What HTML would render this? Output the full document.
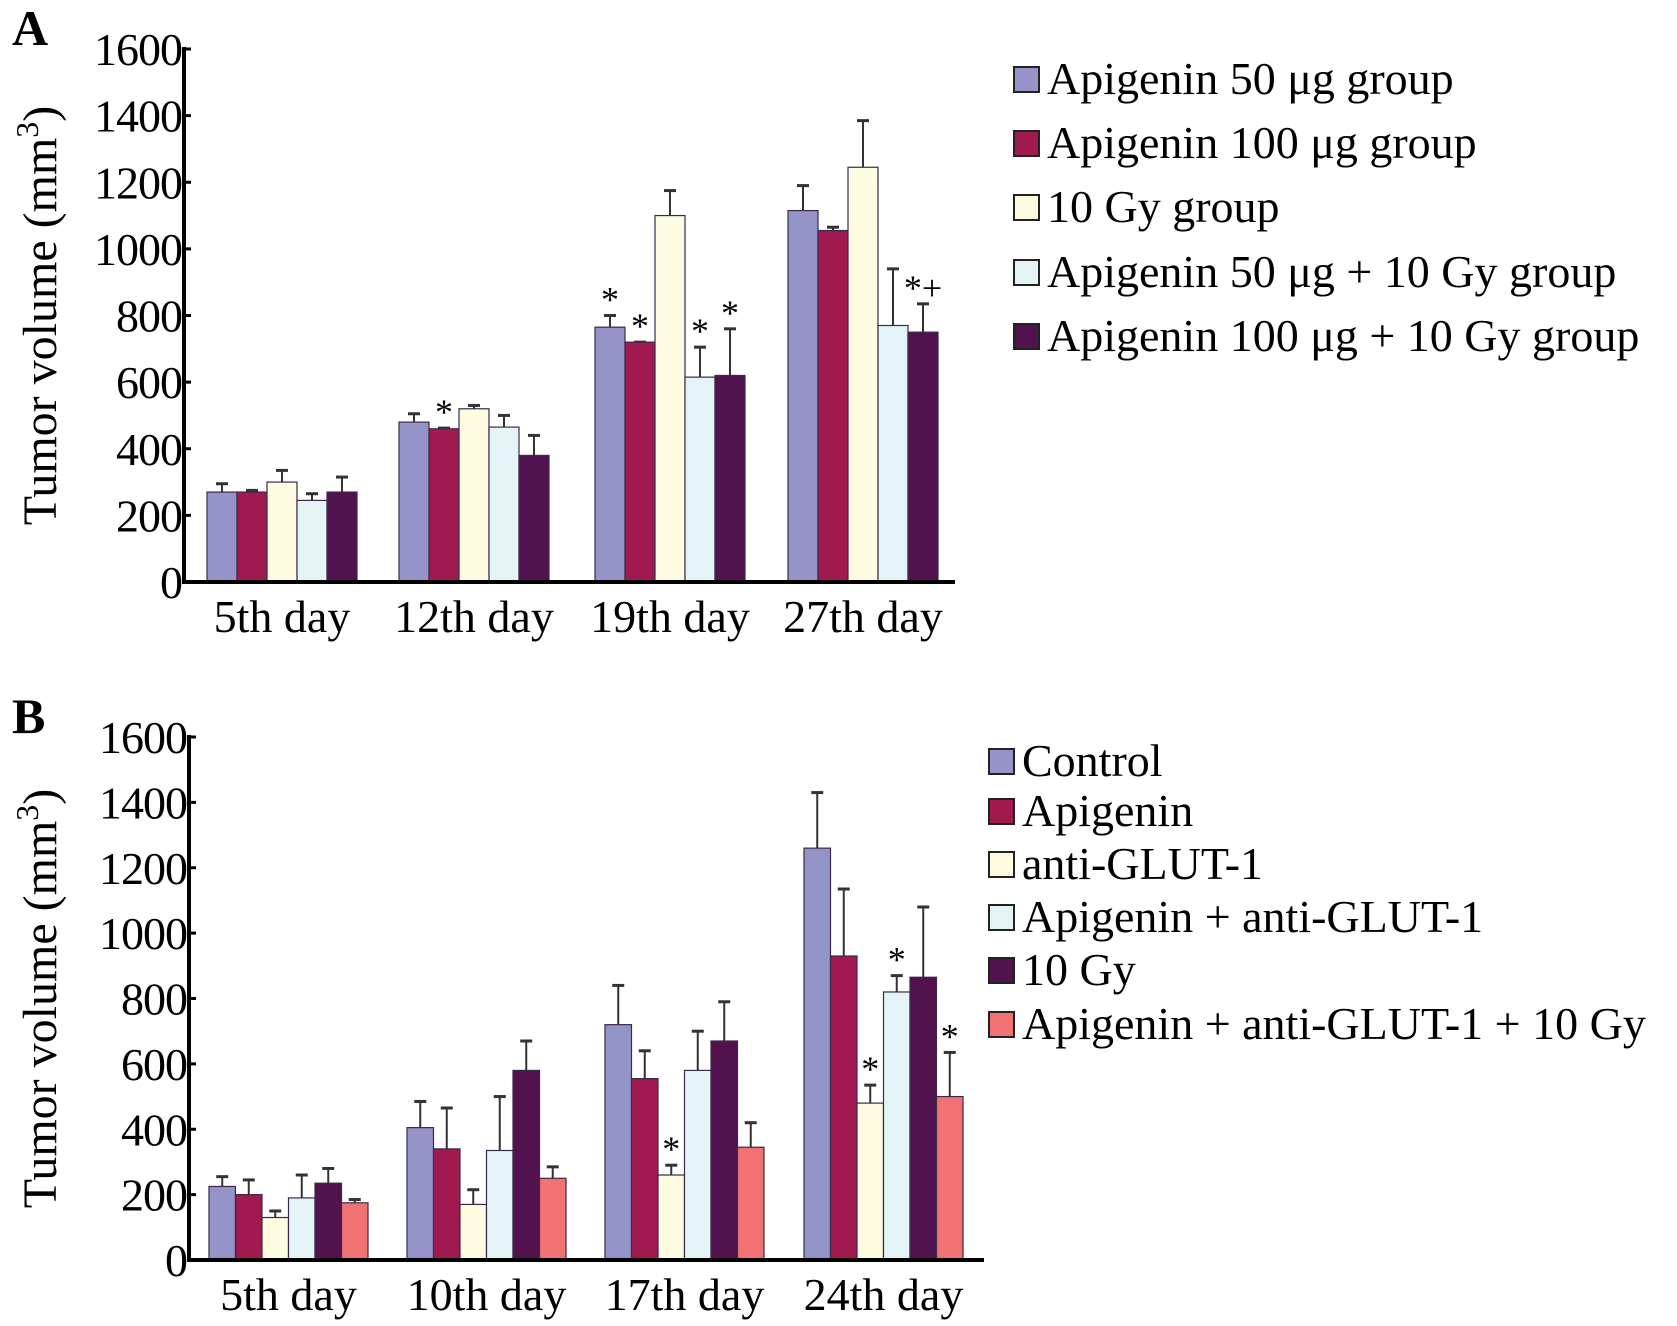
<!DOCTYPE html>
<html><head><meta charset="utf-8"><style>
body{margin:0;background:#fff;}
svg{display:block;font-family:"Liberation Serif",serif;}
</style></head><body>
<svg id="c" width="1677" height="1326" viewBox="0 0 1677 1326"></svg>
<script>
const catsA=["5th day","12th day","19th day","27th day"];
const seriesA=["Apigenin 50 μg group","Apigenin 100 μg group","10 Gy group","Apigenin 50 μg + 10 Gy group","Apigenin 100 μg + 10 Gy group"];
const valsA=[[270,270,300,245,270],[480,460,520,465,380],[765,720,1100,615,620],[1115,1055,1245,770,750]];
const errA=[[295,275,335,265,315],[505,462,530,500,440],[800,720,1175,705,760],[1190,1065,1385,940,835]];
const starsA=[["","","","",""],["","*","","",""],["*","*","","*","*"],["","","","","*+"]];
const catsB=["5th day","10th day","17th day","24th day"];
const seriesB=["Control","Apigenin","anti-GLUT-1","Apigenin + anti-GLUT-1","10 Gy","Apigenin + anti-GLUT-1 + 10 Gy"];
const valsB=[[225,200,130,190,235,175],[405,340,170,335,580,250],[720,555,260,580,670,345],[1260,930,480,820,865,500]];
const errB=[[255,245,150,260,280,185],[485,465,215,500,670,285],[840,640,290,700,790,420],[1430,1135,535,870,1080,635]];
const starsB=[["","","","","",""],["","","","","",""],["","","*","","",""],["","","*","*","","*"]];
const ticks=[0,200,400,600,800,1000,1200,1400,1600];
const colA=["#9494c8","#a01a50","#fffbe0","#e4f4f6","#52124e"];
const colB=["#9494c8","#a01a50","#fffbe0","#e4f4f6","#52124e","#f07272"];
const svg=document.getElementById('c');
const NS="http://www.w3.org/2000/svg";
function mk(t,a,p){const e=document.createElementNS(NS,t);for(const k in a)e.setAttribute(k,a[k]);(p||svg).appendChild(e);return e;}
function panel(P){
  const g=mk('g',{});
  
  
  const y=v=>P.y0-(v/1600)*(P.y0-P.y1);
  const lab=mk('text',{x:12,y:P.y1-4,'font-size':50,'font-weight':'bold'},g);lab.textContent=P.letter;
  
  P.vals.forEach((grp,i)=>{grp.forEach((v,j)=>{
    const x=P.gx[i]+j*P.bw;
    const ex=x+P.bw/2, ey=y(P.err[i][j]);
    const l=mk('line',{x1:ex,x2:ex,y1:y(v),y2:ey,stroke:'#333','stroke-width':2},g);
    
    mk('line',{x1:ex-6,x2:ex+6,y1:ey,y2:ey,stroke:'#333','stroke-width':3},g);
    const r=mk('rect',{x:x,y:y(v),width:P.bw,height:y(0)-y(v),fill:P.col[j],stroke:'#3a2a4a','stroke-width':1.2},g);
    
    
    if(P.stars[i][j]){const s=mk('text',{x:ex,y:ey-4,'font-size':36,'text-anchor':'middle'},g);s.textContent=P.stars[i][j];
      }
  });
  const c=mk('text',{x:P.gx[i]+P.bw*P.col.length/2,y:P.y0+50,'font-size':46,'text-anchor':'middle'},g);c.textContent=P.cats[i];
  
  });
  mk('line',{x1:P.ax,x2:P.ax,y1:P.y1-2,y2:P.y0+2,stroke:'#000','stroke-width':4},g);
  mk('line',{x1:P.ax-2,x2:P.xr,y1:P.y0,y2:P.y0,stroke:'#000','stroke-width':4},g);
  ticks.forEach(t=>{mk('line',{x1:P.ax,x2:P.ax+7,y1:y(t),y2:y(t),stroke:'#000','stroke-width':3},g);
    const tl=mk('text',{x:P.ax-2,y:y(t)+16,'font-size':46,'text-anchor':'end','letter-spacing':-1},g);tl.textContent=t;
    });
  const yt=mk('text',{transform:`translate(56,${(P.y0+P.y1)/2}) rotate(-90)`,'font-size':48,'text-anchor':'middle'},g);
  yt.innerHTML='Tumor volume (mm<tspan dy="-18" font-size="32">3</tspan><tspan dy="18">)</tspan>';
  
  P.series.forEach((s,j)=>{
    const ly=P.ly[j];
    const r=mk('rect',{x:P.lx,y:ly-27,width:25,height:25,fill:P.col[j],stroke:'#222','stroke-width':2},g);
    
    const t=mk('text',{x:P.lx+33,y:ly,'font-size':46},g);t.textContent=s;
    
  });
}
panel({name:'panel-a',letter:'A',cats:catsA,series:seriesA,vals:valsA,err:errA,stars:starsA,col:colA,
  ax:184,xr:955,y0:582,y1:49,gx:[207,399,595,788],bw:30,lx:1014,ly:[94,158,222,287,351]});
panel({name:'panel-b',letter:'B',cats:catsB,series:seriesB,vals:valsB,err:errB,stars:starsB,col:colB,
  ax:189,xr:984,y0:1260,y1:737,gx:[209,407,605,804],bw:26.5,lx:989,ly:[776,826,879,932,985,1039]});
</script>
</body></html>
